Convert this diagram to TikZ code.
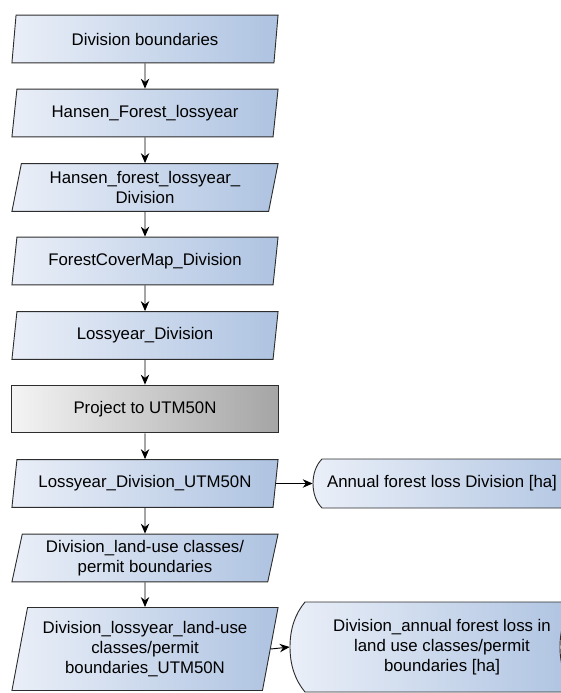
\documentclass[tikz,border=0pt]{standalone}
\usepackage{fontspec}
\setmainfont{Liberation Sans}
\usepackage{xcolor}
\usepackage{tikz}
\usetikzlibrary{shapes.geometric,backgrounds,arrows.meta}
\definecolor{datalight}{RGB}{234,239,248}
\definecolor{datadark}{RGB}{174,195,225}
\definecolor{proclight}{RGB}{244,244,244}
\definecolor{procdark}{RGB}{165,165,165}
\definecolor{edgegray}{RGB}{45,45,45}
\tikzset{data/.style={trapezium,trapezium left angle=75,trapezium right angle=105,trapezium stretches body=true,draw=edgegray,line width=0.6pt,left color=datalight,right color=datadark,minimum width=6.12cm,minimum height=1.1cm,align=center,inner sep=1pt,font=\fontsize{11}{13}\selectfont}}
\tikzset{proc/.style={rectangle,draw=edgegray,line width=0.6pt,left color=proclight,right color=procdark,minimum width=6.12cm,minimum height=1.1cm,font=\fontsize{11}{13}\selectfont}}
\tikzset{store/.style={rectangle,inner sep=0pt,align=center,font=\fontsize{11}{13}\selectfont}}
\tikzset{storeline/.style={draw=edgegray,line width=0.6pt,left color=datalight,right color=datadark}}

\begin{document}
\begin{tikzpicture}[>={Stealth[length=6.5pt,width=5.5pt]},x=0.023cm,y=-0.023cm]
    \useasboundingbox (0,0) rectangle (561,693);

    \node[data] (divb) at (145,39) {Division boundaries};
    \node[data] (hansen) at (145,113) {Hansen\_Forest\_lossyear};
    \node[data] (hansendiv) at (145,187.5) {Hansen\_forest\_lossyear\_\\Division};
    \node[data] (fcmap) at (145,261) {ForestCoverMap\_Division};
    \node[data] (lossdiv) at (145,335.5) {Lossyear\_Division};
    \node[proc] (project) at (145,409) {Project to UTM50N};
    \node[data] (lossutm) at (145,483.5) {Lossyear\_Division\_UTM50N};
    \node[data] (landuse) at (145,558) {Division\_land-use classes/\\permit boundaries};
    \node[data,minimum height=1.91cm] (lossland) at (145,649) {Division\_lossyear\_land-use\\classes/permit\\boundaries\_UTM50N};
    \node[store,minimum width=5.934cm,minimum height=1.127cm] (annual) at (442,483.5) {Annual forest loss Division [ha]};
    \node[store,minimum width=6.992cm,minimum height=2.07cm] (annualland) at (442,647) {Division\_annual forest loss in\\land use classes/permit\\boundaries [ha]};

    % stored data outlines, cut by the right border
    \begin{pgfonlayer}{background}
        \clip (0,0) rectangle (561,693);
        \draw[storeline] (322,459) .. controls (316,465) and (313,474) .. (313,483.5) .. controls (313,493) and (316,502) .. (322,508) -- (600,508) .. controls (594,502) and (591,493) .. (591,483.5) .. controls (591,474) and (594,465) .. (600,459) -- cycle;
        \draw[storeline] (305,602) .. controls (295,614) and (290,629) .. (290,647) .. controls (290,665) and (295,680) .. (305,692) -- (576,692) .. controls (565,680) and (560,665) .. (560,647) .. controls (560,629) and (565,614) .. (576,602) -- cycle;
    \end{pgfonlayer}

    \draw [->,line width=0.6pt] (divb) to [] (hansen);
    \draw [->,line width=0.6pt] (hansen) to [] (hansendiv);
    \draw [->,line width=0.6pt] (hansendiv) to [] (fcmap);
    \draw [->,line width=0.6pt] (fcmap) to [] (lossdiv);
    \draw [->,line width=0.6pt] (lossdiv) to [] (project);
    \draw [->,line width=0.6pt] (project) to [] (lossutm);
    \draw [->,line width=0.6pt] (lossutm) to [] (landuse);
    \draw [->,line width=0.6pt] (landuse) to [] (lossland);
    \draw [->,line width=0.6pt] (lossutm.east) to [] (annual.west);
    \draw [->,line width=0.6pt] (lossland.east) to [] (annualland.west);
\end{tikzpicture}
\end{document}
